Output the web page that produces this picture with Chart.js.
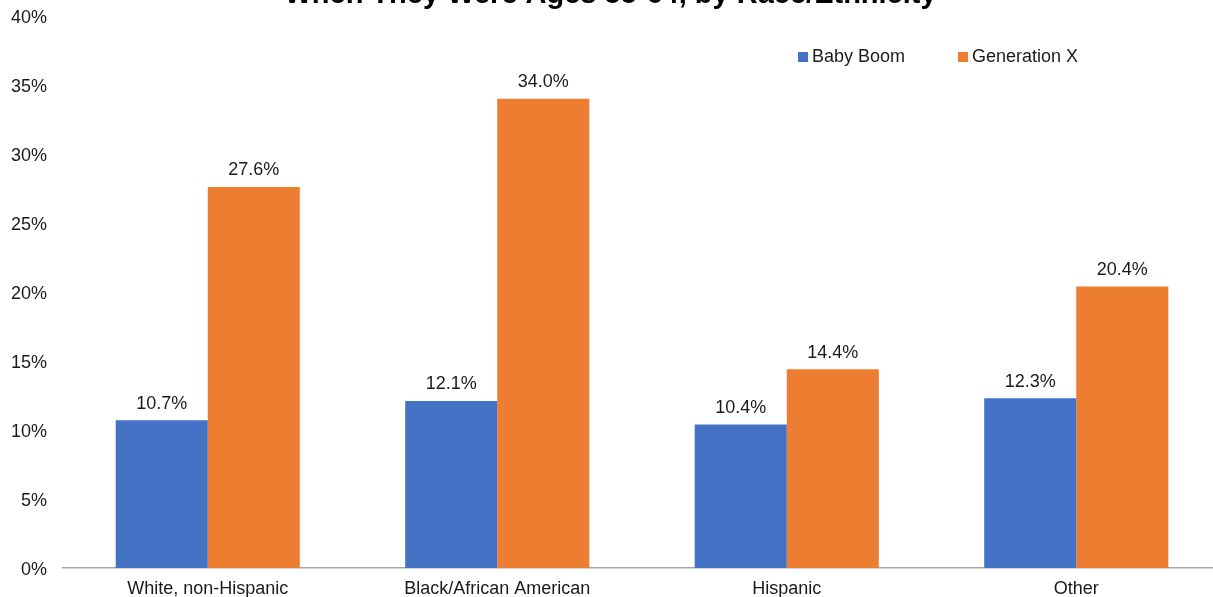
<!DOCTYPE html>
<html>
<head>
<meta charset="utf-8">
<script src="https://cdn.jsdelivr.net/npm/chart.js@4/dist/chart.umd.min.js"></script>
<style>
  html, body { margin: 0; padding: 0; background: #fff; overflow: hidden; }
  #wrap { position: relative; width: 1213px; height: 597px; overflow: hidden; }
  #c { position: absolute; left: 0; top: -30px; }
</style>
</head>
<body>
<div id="wrap"><canvas id="c" width="1230" height="627"></canvas></div>
<script>
const titleText = 'When They Were Ages 55-64, by Race/Ethnicity';
const categories = ['White, non-Hispanic', 'Black/African American', 'Hispanic', 'Other'];
const seriesNames = ['Baby Boom', 'Generation X'];
const babyBoom = [10.7, 12.1, 10.4, 12.3];
const generationX = [27.6, 34.0, 14.4, 20.4];
const yTicks = [0, 5, 10, 15, 20, 25, 30, 35, 40];

const FONT = '"Liberation Sans", Arial, sans-serif';
const TEXT = '#1a1a1a';
const colors = ['#4472C4', '#ED7D31'];

const valueLabels = {
  id: 'valueLabels',
  afterDatasetsDraw(chart) {
    const ctx = chart.ctx;
    ctx.save();
    ctx.font = '18px ' + FONT;
    ctx.fillStyle = TEXT;
    ctx.textAlign = 'center';
    ctx.textBaseline = 'alphabetic';
    chart.data.datasets.forEach((ds, di) => {
      chart.getDatasetMeta(di).data.forEach((bar, i) => {
        ctx.fillText(ds.data[i].toFixed(1) + '%', bar.x, bar.y - 11.5);
      });
    });
    ctx.restore();
  }
};

const customLegend = {
  id: 'customLegend',
  afterDraw(chart) {
    const ctx = chart.ctx;
    const items = [{x: 798}, {x: 958}];
    const boxTop = 52 + 30, baseline = 62 + 30;
    ctx.save();
    ctx.font = '18px ' + FONT;
    ctx.textBaseline = 'alphabetic';
    ctx.textAlign = 'left';
    chart.data.datasets.forEach((ds, i) => {
      ctx.fillStyle = ds.backgroundColor;
      ctx.fillRect(items[i].x, boxTop, 10, 10);
      ctx.fillStyle = TEXT;
      ctx.fillText(ds.label, items[i].x + 14, baseline);
    });
    ctx.restore();
  }
};

new Chart(document.getElementById('c'), {
  type: 'bar',
  data: {
    labels: categories,
    datasets: [
      { label: seriesNames[0], data: babyBoom, backgroundColor: colors[0], categoryPercentage: 0.636, barPercentage: 1 },
      { label: seriesNames[1], data: generationX, backgroundColor: colors[1], categoryPercentage: 0.636, barPercentage: 1 }
    ]
  },
  options: {
    responsive: false,
    animation: false,
    devicePixelRatio: 1,
    layout: { padding: { left: 0, right: 9, top: 0, bottom: 0 } },
    plugins: {
      legend: { display: false },
      tooltip: { enabled: false },
      title: {
        display: true,
        text: titleText,
        color: '#000',
        font: { family: FONT, size: 29, weight: 'bold', lineHeight: 1.2 },
        padding: { top: 8, bottom: 3 }
      }
    },
    scales: {
      x: {
        grid: { display: false, drawTicks: false },
        border: { display: true, color: '#a6a6a6', width: 1.5 },
        ticks: { color: TEXT, font: { family: FONT, size: 18 }, padding: 10, maxRotation: 0 },
        afterFit(scale) { scale.height = 29; }
      },
      y: {
        min: 0, max: 40,
        afterBuildTicks(scale) { scale.ticks = yTicks.map(v => ({ value: v })); },
        grid: { display: false, drawTicks: false },
        border: { display: false },
        ticks: { color: TEXT, font: { family: FONT, size: 18 }, padding: 16, labelOffset: 2, callback: v => v + '%' },
        afterFit(scale) { scale.width = 63; }
      }
    }
  },
  plugins: [valueLabels, customLegend]
});
</script>
</body>
</html>
